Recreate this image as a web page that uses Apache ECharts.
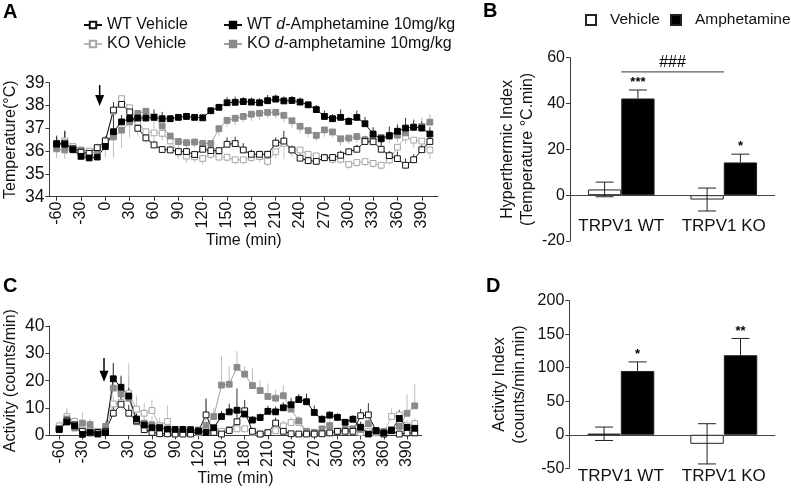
<!DOCTYPE html>
<html><head><meta charset="utf-8">
<script src="https://cdn.jsdelivr.net/npm/echarts@6/dist/echarts.min.js"></script>
<style>html,body{margin:0;padding:0;background:#fff}#c{width:791px;height:488px}</style>
</head><body><div id="c"></div>
<script>
const FONT = '"Liberation Sans", Arial, Helvetica, sans-serif';

// ---------- data ----------
const times = [-60,-50,-40,-30,-20,-10,0,10,20,30,40,50,60,70,80,90,100,110,120,130,140,150,160,170,180,190,200,210,220,230,240,250,260,270,280,290,300,310,320,330,340,350,360,370,380,390,400];
const ticksX = [-60,-30,0,30,60,90,120,150,180,210,240,270,300,330,360,390];

const tempWTVeh = [36.30,36.35,36.10,35.95,35.90,36.15,36.45,37.80,38.05,37.72,
37.00,36.58,36.27,36.07,36.05,35.98,35.98,35.85,36.08,36.02,
36.02,36.30,36.33,36.05,35.86,35.86,35.86,36.35,36.44,36.05,
35.69,35.58,35.55,35.71,35.72,35.82,35.97,36.08,36.42,36.41,
36.08,35.80,35.67,35.38,35.62,36.06,36.42];
const tempWTAmp = [36.33,36.30,36.06,35.77,35.70,35.74,36.20,36.85,37.28,37.43,
37.45,37.45,37.48,37.42,37.42,37.48,37.52,37.48,37.46,37.77,
37.92,38.12,38.14,38.17,38.15,38.12,38.21,38.28,38.20,38.22,
38.15,38.03,37.82,37.52,37.42,37.48,37.30,37.48,37.20,36.75,
36.54,36.68,36.87,37.01,37.05,37.01,36.75];
const tempKOVeh = [36.20,36.45,36.20,36.05,36.00,36.15,36.45,37.75,38.30,37.90,
37.28,36.85,36.80,36.78,36.45,35.95,35.78,35.75,35.68,35.86,
35.74,35.73,35.62,35.62,35.72,35.76,35.55,35.97,36.34,36.07,
36.05,35.86,35.79,35.73,35.64,35.64,35.42,35.50,35.54,35.46,
35.38,35.61,36.17,36.62,36.48,36.44,36.05];
const tempKOAmp = [36.10,36.05,36.12,36.03,35.78,36.05,36.33,36.62,36.92,37.28,
37.65,37.75,37.50,37.10,36.66,36.42,36.37,36.40,36.34,36.33,
36.98,37.35,37.44,37.52,37.62,37.66,37.70,37.70,37.57,37.33,
37.09,36.90,36.69,36.93,36.84,36.54,36.57,36.64,36.50,36.63,
36.60,36.64,36.70,36.80,37.03,37.08,37.27];

// signed SEM (positive = bar drawn upward, negative = downward)
const semTempWTVeh = [0.30,0.50,0.15,0.10,0.10,0.15,0.20,0.35,0.25,0.20,
0.20,0.15,0.15,0.10,0.10,0.10,0.10,0.10,0.15,0.15,
0.15,0.30,0.30,0.30,0.20,0.15,0.15,0.25,0.45,0.20,
0.15,0.15,0.15,0.15,0.15,0.20,0.15,0.20,0.25,0.30,
0.35,0.20,0.30,0.30,0.25,0.20,0.20];
const semTempWTAmp = [0.35,0.60,0.20,0.10,0.10,0.10,0.25,0.90,0.30,0.15,
0.25,0.30,0.35,0.30,0.15,0.15,0.15,0.10,0.15,0.15,
0.15,0.25,0.25,0.20,0.20,0.20,0.25,0.20,0.20,0.20,
0.20,0.15,0.20,0.25,0.20,0.35,0.20,0.30,0.30,0.30,
0.20,0.40,0.30,0.45,0.30,0.30,0.30];
const semTempKOVeh = [-0.30,-0.30,-0.20,-0.20,-0.30,-0.25,-0.30,-0.50,-0.35,-0.50,
-0.60,-0.50,-0.40,-0.30,-0.35,-0.30,-0.30,-0.25,-0.25,-0.20,
-0.20,-0.20,-0.20,-0.20,-0.20,-0.25,-0.20,-0.30,-0.70,-0.30,
-0.40,-0.25,-0.20,-0.20,-0.20,-0.20,-0.20,-0.20,-0.20,-0.20,
-0.20,-0.20,-0.30,-0.30,-0.35,-0.30,-0.40];
const semTempKOAmp = [-0.40,-0.40,-0.20,-0.30,-0.20,-0.40,-0.60,-0.90,-0.80,-0.70,
-0.50,-0.45,-0.50,-0.50,-0.35,-0.30,-0.30,-0.25,-0.25,-0.20,
-0.30,-0.30,-0.30,-0.25,-0.30,-0.30,-0.25,-0.25,-0.30,-0.30,
-0.30,-0.30,-0.25,-0.30,-0.25,-0.30,-0.25,-0.25,-0.25,-0.30,
-0.30,-0.30,-0.30,0.35,0.40,0.40,0.35];

const actWTVeh = [2.3,5.3,3.9,1.5,0.9,1.1,1.5,8.1,11.4,8.1,
5.3,2.1,1.1,0.6,0.6,0.5,0.5,0.5,1.5,7.5,
1.1,0.5,1.8,5.0,9.0,1.5,0.5,1.0,4.5,1.5,
0.6,0.5,0.5,0.5,0.6,0.9,1.5,1.5,1.5,7.2,
7.5,1.7,0.5,1.7,0.5,0.9,0.9];
const actWTAmp = [2.1,4.9,3.5,0.4,1.2,0.5,1.0,20.7,17.6,14.4,
6.0,3.8,2.8,2.8,2.3,2.2,2.2,2.1,1.6,1.1,
2.8,6.9,8.6,9.2,7.8,5.6,6.5,8.8,8.6,10.1,
11.2,13.1,12.3,8.4,5.9,7.4,6.6,4.8,5.9,3.0,
0.5,1.7,0.9,1.8,6.2,2.9,2.6];
const actKOVeh = [3.5,6.9,5.1,2.0,2.0,1.5,1.5,11.5,12.0,15.4,
9.6,8.1,9.1,3.6,5.1,0.6,1.5,0.9,1.0,2.0,
1.5,1.5,2.2,2.4,2.4,1.1,0.5,1.0,1.7,3.5,
4.7,4.7,1.0,0.9,1.0,1.0,1.5,1.7,2.2,1.0,
1.5,0.9,1.0,6.9,7.5,3.5,4.3];
const actKOAmp = [2.5,6.0,2.7,4.5,4.0,1.0,3.3,17.3,15.1,13.6,
5.0,4.5,3.9,3.0,2.0,1.0,1.0,1.0,2.0,3.7,
6.9,18.4,18.7,24.9,22.4,18.2,16.4,14.2,13.6,14.5,
9.6,5.3,1.5,1.1,2.4,3.6,1.5,2.2,2.4,2.2,
4.3,1.5,1.5,2.2,3.3,8.1,10.8];

const semActWTVeh = [1,2,1,0.5,0.5,0.5,0.5,3,3,3,
2,1,0.5,0.3,0.3,0.3,0.3,0.3,0.5,6,
0.5,0.3,0.5,3,4,0.5,0.3,0.5,2,0.5,
0.3,0.3,0.3,0.3,0.3,0.3,0.5,0.5,0.5,2.5,
4.3,0.5,0.3,0.5,0.3,0.5,0.5];
const semActWTAmp = [1,3,1,0.5,0.5,0.5,0.5,5.8,4,3,
2,1.5,1,1,0.8,0.5,0.5,0.5,0.5,0.5,
1,2,3,8,2,1.5,1.5,2,2,2,
2.5,2,3,2.5,1.5,1.5,1.5,1,1.5,2,
1,0.5,0.5,0.5,3,1,1];
const semActKOVeh = [1.5,2,1.5,1,1,0.5,1,3,4,11,
5,4,4,3,6,0.5,0.5,0.5,0.5,0.5,
0.5,0.5,0.5,1,1,0.5,0.5,0.5,1,2,
2,2,0.5,0.5,0.5,0.5,0.5,0.5,0.5,0.5,
0.5,0.5,0.5,3,2,2,2];
const semActKOAmp = [2,4,1.5,4,2,1,2,9,7,8,
3,5,3,2,1,0.5,0.5,0.5,1,9,
3,10.6,6.6,5.9,3,6.3,4,4.8,3,3.9,
3,2,0.5,0.5,1,3,1,1,1,1,
3,0.5,0.5,1,4,7,8];

const groups = ['TRPV1 WT', 'TRPV1 KO'];
const hyperVeh = [2.5, -1.9];
const hyperVehSem = [3.2, 5.0];
const hyperAmp = [42.2, 14.3];
const hyperAmpSem = [3.7, 3.6];
const hyperStars = ['***', '*'];
const actIdxVeh = [1.5, -13.5];
const actIdxVehSem = [10, 30];
const actIdxAmp = [95.2, 118.7];
const actIdxAmpSem = [13.5, 25];
const actStars = ['*', '**'];

const arrowA = {t: -7, from: 38.9, to: 37.98};
const arrowC = {t: -2, from: 28.3, to: 19.6};
const hashB = {from: 0.2, to: 1.24, y: 53.8, label: '###'};

// ---------- styles ----------
const S = {
  wtVeh: {name: 'WT Vehicle', line: '#111', fill: '#fff', border: '#111', err: '#333'},
  koVeh: {name: 'KO Vehicle', line: '#b8b8b8', fill: '#fff', border: '#a6a6a6', err: '#c4c4c4'},
  wtAmp: {name: 'WT d-Amphetamine 10mg/kg', line: '#111', fill: '#000', border: '#000', err: '#333'},
  koAmp: {name: 'KO d-amphetamine 10mg/kg', line: '#a0a0a0', fill: '#8a8a8a', border: '#8a8a8a', err: '#bdbdbd'}
};

function lineSeries(key, vals, xi, yi) {
  const s = S[key];
  return {type: 'line', name: s.name, xAxisIndex: xi, yAxisIndex: yi,
    data: times.map((t, i) => [t, vals[i]]),
    symbol: 'rect', symbolSize: 5.8, showSymbol: true, z: 4,
    lineStyle: {color: s.line, width: 1},
    itemStyle: {color: s.fill, borderColor: s.border, borderWidth: 1},
    emphasis: {disabled: true}, animation: false};
}
function errSeries(key, vals, errs, xi, yi) {
  const s = S[key];
  return {type: 'custom', xAxisIndex: xi, yAxisIndex: yi, z: 3, silent: true,
    data: times.map((t, i) => [t, vals[i], errs[i]]), encode: {x: 0, y: 1},
    renderItem: function (p, api) {
      const x = api.value(0), y = api.value(1), e = api.value(2);
      const a = api.coord([x, y]), b = api.coord([x, y + e]);
      return {type: 'line', shape: {x1: a[0], y1: a[1], x2: b[0], y2: b[1]},
        style: {stroke: s.err, lineWidth: 1}};
    }, animation: false};
}
function barErr(vals, errs, side, both, stars, xi, yi) {
  return {type: 'custom', xAxisIndex: xi, yAxisIndex: yi, z: 6, silent: true,
    data: vals.map((v, i) => [i, v, errs[i]]), encode: {x: 0, y: 1},
    renderItem: function (p, api) {
      const i = api.value(0), v = api.value(1), e = api.value(2);
      const c = api.coord([i, v]);
      const bw = api.size([1, 0])[0] * 0.325;
      const cx = c[0] + side * bw / 2;
      const top = api.coord([i, v + e])[1];
      const bot = both ? api.coord([i, v - e])[1] : c[1];
      const cap = bw * 0.27;
      const ch = [
        {type: 'line', shape: {x1: cx, y1: top, x2: cx, y2: bot}, style: {stroke: '#222', lineWidth: 1}},
        {type: 'line', shape: {x1: cx - cap, y1: top, x2: cx + cap, y2: top}, style: {stroke: '#222', lineWidth: 1}}
      ];
      if (both) ch.push({type: 'line', shape: {x1: cx - cap, y1: bot, x2: cx + cap, y2: bot}, style: {stroke: '#222', lineWidth: 1}});
      if (stars) ch.push({type: 'text', style: {text: stars[p.dataIndex], x: cx, y: top - 1, align: 'center', verticalAlign: 'bottom', font: 'bold 13px ' + FONT, fill: '#000'}});
      return {type: 'group', children: ch};
    }, animation: false};
}
function barSeries(name, vals, xi, yi, fill, withZero) {
  const s = {type: 'bar', name: name, xAxisIndex: xi, yAxisIndex: yi, data: vals,
    barWidth: '32.5%', barGap: '0%', z: 2,
    itemStyle: {color: fill, borderColor: '#222', borderWidth: 1},
    emphasis: {disabled: true}, animation: false};
  if (withZero) s.markLine = {silent: true, symbol: 'none', animation: false,
    label: {show: false}, lineStyle: {color: '#444', width: 1, type: 'solid'}, data: [{yAxis: 0}]};
  return s;
}

const axisLine = {show: true, onZero: false, lineStyle: {color: '#3a3a3a', width: 1}};
const axisTick = {show: true, length: 4, lineStyle: {color: '#3a3a3a', width: 1}};
const lbl = {color: '#111', fontSize: 16, fontFamily: FONT};
const lblBig = {color: '#111', fontSize: 17.5, fontFamily: FONT};
const lblCat = {color: '#111', fontSize: 17, fontFamily: FONT};
const nameStyle = {color: '#111', fontSize: 16, fontFamily: FONT};

function timeAxis(gridIndex, min, max) {
  return {type: 'value', gridIndex: gridIndex, min: min, max: max,
    axisLine: axisLine, splitLine: {show: false},
    axisTick: Object.assign({customValues: ticksX}, axisTick),
    axisLabel: Object.assign({customValues: ticksX, rotate: 90, margin: 5}, lbl),
    name: 'Time (min)', nameLocation: 'middle', nameGap: 31, nameTextStyle: nameStyle};
}
function valAxis(gridIndex, min, max, interval, name, gap, big) {
  return {type: 'value', gridIndex: gridIndex, min: min, max: max, interval: interval,
    axisLine: axisLine, axisTick: axisTick, splitLine: {show: false},
    axisLabel: Object.assign({margin: 5}, big ? lblBig : lbl),
    name: name, nameLocation: 'middle', nameGap: gap, nameTextStyle: Object.assign({lineHeight: 20}, nameStyle)};
}
function catAxis(gridIndex, offset, margin) {
  return {type: 'category', gridIndex: gridIndex, data: groups,
    axisLine: {show: false, onZero: false}, axisTick: {show: false},
    offset: offset, axisLabel: Object.assign({margin: margin, interval: 0, hideOverlap: false}, lblCat)};
}

const legendText = {fontSize: 16, fontFamily: FONT, color: '#111',
  rich: {i: {fontStyle: 'italic', fontSize: 16, fontFamily: FONT, color: '#111'}}};
function legendFmt(n) { return n.replace(/ d-/, ' {i|d}-'); }

const option = {
  animation: false,
  backgroundColor: '#fff',
  textStyle: {fontFamily: FONT},
  grid: [
    {left: 45, top: 82.7, width: 393, height: 114},
    {left: 570, top: 57.7, width: 205, height: 183.3},
    {left: 41.7, top: 326, width: 380, height: 109.7},
    {left: 569.3, top: 300.7, width: 206, height: 167.6}
  ],
  xAxis: [
    timeAxis(0, -69, 410),
    catAxis(1, -31, 8),
    timeAxis(2, -72.7, 409),
    catAxis(3, 0, 0)
  ],
  yAxis: [
    valAxis(0, 34, 39, 1, 'Temperature(°C)', 25, true),
    valAxis(1, -20, 60, 20, 'Hyperthermic Index\n(Temperature °C.min)', 26, false),
    valAxis(2, 0, 40, 10, 'Activity (counts/min)', 23, true),
    valAxis(3, -50, 200, 50, 'Activity Index\n(counts/min.min)', 40, false)
  ],
  legend: [
    {orient: 'vertical', left: 78, top: 12, itemGap: 3, itemWidth: 18, itemHeight: 8,
      data: [S.wtVeh.name, S.koVeh.name], textStyle: legendText, formatter: legendFmt, selectedMode: false},
    {orient: 'vertical', left: 218, top: 12, itemGap: 3, itemWidth: 18, itemHeight: 8,
      data: [S.wtAmp.name, S.koAmp.name], textStyle: legendText, formatter: legendFmt, selectedMode: false},
    {orient: 'horizontal', left: 585, top: 12, padding: 0, itemGap: 10, itemWidth: 10, itemHeight: 10, icon: 'rect',
      data: ['Vehicle', 'Amphetamine'], textStyle: {fontSize: 15.5, fontFamily: FONT, color: '#111', padding: [0, 0, 0, 9]}, selectedMode: false}
  ],
  series: [
    errSeries('koVeh', tempKOVeh, semTempKOVeh, 0, 0),
    errSeries('koAmp', tempKOAmp, semTempKOAmp, 0, 0),
    errSeries('wtVeh', tempWTVeh, semTempWTVeh, 0, 0),
    errSeries('wtAmp', tempWTAmp, semTempWTAmp, 0, 0),
    lineSeries('koVeh', tempKOVeh, 0, 0),
    lineSeries('koAmp', tempKOAmp, 0, 0),
    lineSeries('wtVeh', tempWTVeh, 0, 0),
    lineSeries('wtAmp', tempWTAmp, 0, 0),

    errSeries('koVeh', actKOVeh, semActKOVeh, 2, 2),
    errSeries('koAmp', actKOAmp, semActKOAmp, 2, 2),
    errSeries('wtVeh', actWTVeh, semActWTVeh, 2, 2),
    errSeries('wtAmp', actWTAmp, semActWTAmp, 2, 2),
    lineSeries('koVeh', actKOVeh, 2, 2),
    lineSeries('koAmp', actKOAmp, 2, 2),
    lineSeries('wtVeh', actWTVeh, 2, 2),
    lineSeries('wtAmp', actWTAmp, 2, 2),

    barSeries('Vehicle', hyperVeh, 1, 1, '#fff', true),
    barSeries('Amphetamine', hyperAmp, 1, 1, '#000', false),
    barErr(hyperVeh, hyperVehSem, -1, true, null, 1, 1),
    barErr(hyperAmp, hyperAmpSem, 1, false, hyperStars, 1, 1),

    barSeries('Vehicle', actIdxVeh, 3, 3, '#fff', true),
    barSeries('Amphetamine', actIdxAmp, 3, 3, '#000', false),
    barErr(actIdxVeh, actIdxVehSem, -1, true, null, 3, 3),
    barErr(actIdxAmp, actIdxAmpSem, 1, false, actStars, 3, 3)
  ]
};

const chart = echarts.init(document.getElementById('c'), null, {renderer: 'canvas'});
chart.setOption(option);

function arrowGraphic(gridIndex, a) {
  const p0 = chart.convertToPixel({gridIndex: gridIndex}, [a.t, a.from]);
  const p1 = chart.convertToPixel({gridIndex: gridIndex}, [a.t, a.to]);
  const hw = 4.5, hh = 11;
  return [
    {type: 'line', shape: {x1: p0[0], y1: p0[1], x2: p1[0], y2: p1[1] - hh + 1}, style: {stroke: '#000', lineWidth: 1.5}},
    {type: 'polygon', shape: {points: [[p1[0] - hw, p1[1] - hh], [p1[0] + hw, p1[1] - hh], [p1[0], p1[1]]]}, style: {fill: '#000'}}
  ];
}
const hs = chart.convertToPixel({xAxisIndex: 1, yAxisIndex: 1}, [hashB.from, hashB.y]);
const he = chart.convertToPixel({xAxisIndex: 1, yAxisIndex: 1}, [hashB.to, hashB.y]);
const letter = (t, x, y) => ({type: 'text', left: x, top: y, style: {text: t, font: 'bold 20px ' + FONT, fill: '#000'}});
chart.setOption({graphic: [].concat(
  arrowGraphic(0, arrowA),
  arrowGraphic(2, arrowC),
  [
    {type: 'line', shape: {x1: hs[0], y1: hs[1], x2: he[0], y2: he[1]}, style: {stroke: '#333', lineWidth: 1}},
    {type: 'text', x: (hs[0] + he[0]) / 2, y: hs[1] - 1, style: {text: hashB.label, font: '16px ' + FONT, fill: '#000', align: 'center', verticalAlign: 'bottom'}},
    letter('A', 3, 2), letter('B', 483, 1), letter('C', 3, 276), letter('D', 486, 276)
  ]
)});
</script></body></html>
